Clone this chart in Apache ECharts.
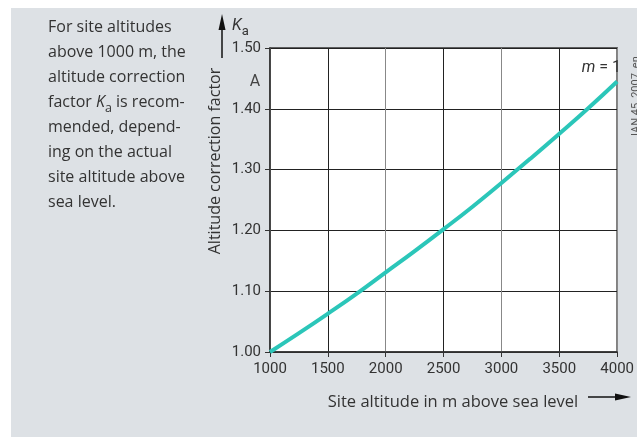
<!DOCTYPE html>
<html>
<head>
<meta charset="utf-8">
<script src="https://cdn.jsdelivr.net/npm/echarts@6/dist/echarts.min.js"></script>
<style>
  html, body { margin: 0; padding: 0; background: #fff; }
  #wrap { position: relative; width: 637px; height: 437px; overflow: hidden; }
  #panel { position: absolute; left: 11px; top: 8px; right: 0; bottom: 0; background: #dde1e5; }
  #chart { position: absolute; left: 0; top: 0; width: 637px; height: 437px; }
</style>
</head>
<body>
<div id="wrap">
  <div id="panel"></div>
  <div id="chart"></div>
</div>
<script>
// altitude in m
var altitudes = [1000, 1250, 1500, 1750, 2000, 2250, 2500, 2750, 3000, 3250, 3500, 3750, 4000];
var factors = [1.000, 1.031, 1.063, 1.096, 1.131, 1.166, 1.202, 1.239, 1.278, 1.318, 1.359, 1.401, 1.445];
var yTicks = [1.0, 1.1, 1.2, 1.3, 1.4, 1.5];
var xTicks = [1000, 1500, 2000, 2500, 3000, 3500, 4000];

var labelFont = "Roboto, sans-serif";
var textFont = "'Open Sans', 'Noto Sans', sans-serif";
var dark = "#333";

var chart = echarts.init(document.getElementById("chart"));

var option = {
  animation: false,
  grid: {
    left: 270, top: 48, right: 10, bottom: 85,
    show: true,
    backgroundColor: "#fff",
    borderColor: dark,
    borderWidth: 1.5
  },
  xAxis: {
    type: "value",
    min: xTicks[0],
    max: xTicks[xTicks.length - 1],
    interval: 500,
    axisLine: { show: true, lineStyle: { color: dark, width: 1.5 } },
    axisTick: { show: true, length: 5, lineStyle: { color: dark } },
    axisLabel: {
      color: dark, fontFamily: labelFont, fontSize: 15, margin: 10,
      formatter: function (v) { return String(v); }
    },
    splitLine: { show: true, showMinLine: true, lineStyle: { color: ["#888", "#222"], width: 1 } }
  },
  yAxis: {
    type: "value",
    min: yTicks[0],
    max: yTicks[yTicks.length - 1],
    interval: 0.1,
    axisLine: { show: true, lineStyle: { color: dark, width: 1.5 } },
    axisTick: { show: true, length: 5, lineStyle: { color: dark } },
    axisLabel: {
      color: dark, fontFamily: labelFont, fontSize: 15, margin: 9,
      formatter: function (v) { return v.toFixed(2); }
    },
    splitLine: { show: true, lineStyle: { color: "#222", width: 1 } }
  },
  series: [{
    type: "line",
    data: altitudes.map(function (a, i) { return [a, factors[i]]; }),
    smooth: true,
    symbol: "none",
    lineStyle: { color: "#2bc6b9", width: 4 },
    z: 5
  }],
  graphic: [
    // explanatory text on the left
    {
      type: "text", left: 48, top: 15,
      style: {
        text: "For site altitudes\nabove 1000 m, the\naltitude correction\nfactor {i|K}{sub|a} is recom-\nmended, depend-\ning on the actual\nsite altitude above\nsea level.",
        font: "16px " + textFont,
        fill: "#333",
        lineHeight: 25,
        rich: {
          i: { fontStyle: "italic", fontSize: 16, fontFamily: textFont, fill: "#333", lineHeight: 25 },
          sub: { fontSize: 12.5, fontFamily: textFont, fill: "#333", verticalAlign: "bottom", lineHeight: 25, padding: [6, 0, 0, 0] }
        }
      }
    },
    // y axis name
    {
      type: "text", x: 215, y: 161, rotation: Math.PI / 2,
      style: {
        text: "Altitude correction factor",
        font: "16px " + textFont,
        fill: "#333",
        align: "center",
        verticalAlign: "middle"
      }
    },
    // y arrow
    { type: "line", shape: { x1: 222, y1: 58, x2: 222, y2: 26 }, style: { stroke: "#111", lineWidth: 1.5 } },
    { type: "polygon", shape: { points: [[222, 14], [218.5, 30], [225.5, 30]] }, style: { fill: "#111" } },
    {
      type: "text", x: 232, y: 26,
      style: {
        text: "{i|K}{sub|a}",
        verticalAlign: "middle",
        rich: {
          i: { fontStyle: "italic", fontSize: 16, fontFamily: labelFont, fill: "#333" },
          sub: { fontSize: 13, fontFamily: labelFont, fill: "#333", padding: [12, 0, 0, 0] }
        }
      }
    },
    {
      type: "text", x: 255, y: 82,
      style: { text: "A", font: "16px " + labelFont, fill: "#444", align: "center", verticalAlign: "middle" }
    },
    // curve label
    {
      type: "text", x: 621, y: 68, z: 100,
      style: {
        text: "{i|m} = 1",
        font: "16px " + labelFont,
        fill: "#333",
        align: "right",
        verticalAlign: "middle",
        rich: { i: { fontStyle: "italic", fontSize: 16, fontFamily: labelFont, fill: "#333" } }
      }
    },
    // x axis name and arrow
    {
      type: "text", x: 453, y: 402,
      style: { text: "Site altitude in m above sea level", font: "16.5px " + textFont, fill: "#333", align: "center", verticalAlign: "middle" }
    },
    { type: "line", shape: { x1: 588, y1: 397, x2: 618, y2: 397 }, style: { stroke: "#111", lineWidth: 1.5 } },
    { type: "polygon", shape: { points: [[631, 397], [615, 393.5], [615, 400.5]] }, style: { fill: "#111" } },
    // figure id along the right edge
    {
      type: "text", x: 636, y: 136, rotation: Math.PI / 2,
      style: { text: "IAN 45_2007_en", font: "11px " + labelFont, fill: "#555", align: "left", verticalAlign: "middle" }
    }
  ]
};

chart.setOption(option);
</script>
</body>
</html>
